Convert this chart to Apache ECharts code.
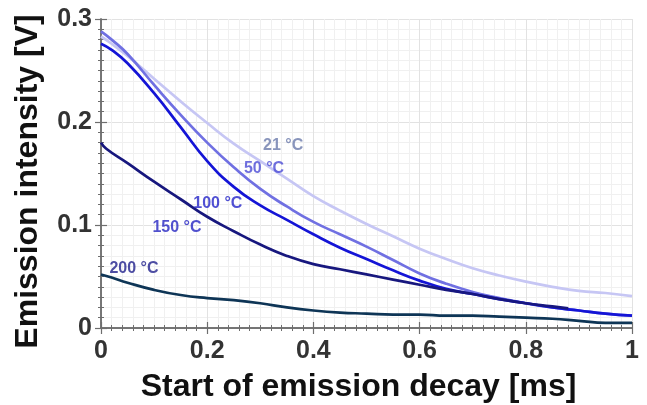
<!DOCTYPE html>
<html>
<head>
<meta charset="utf-8">
<script src="https://cdn.jsdelivr.net/npm/echarts@6/dist/echarts.min.js"></script>
<style>
html,body{margin:0;padding:0;background:#fff;}
#c{width:647px;height:405px;}
</style>
</head>
<body>
<div id="c"></div>
<script>
// ---- data ----
var xs = [0, 0.02, 0.05, 0.1, 0.15, 0.2, 0.25, 0.3, 0.35, 0.4, 0.45, 0.5, 0.55, 0.6, 0.65, 0.7, 0.75, 0.8, 0.85, 0.9, 0.95, 1.0];
var y21  = [0.283, 0.276, 0.264, 0.242, 0.220, 0.199, 0.179, 0.162, 0.145, 0.128, 0.114, 0.101, 0.089, 0.077, 0.067, 0.058, 0.051, 0.045, 0.040, 0.036, 0.034, 0.031];
var y50  = [0.288, 0.280, 0.266, 0.236, 0.207, 0.180, 0.156, 0.135, 0.118, 0.103, 0.091, 0.079, 0.066, 0.053, 0.043, 0.035, 0.029, 0.024, 0.020, 0.017, 0.014, 0.012];
var y100 = [0.276, 0.270, 0.257, 0.228, 0.195, 0.162, 0.137, 0.119, 0.105, 0.091, 0.078, 0.067, 0.056, 0.046, 0.038, 0.033, 0.028, 0.024, 0.020, 0.017, 0.014, 0.012];
var xs150 = [0, 0.01, 0.05, 0.1, 0.15, 0.2, 0.25, 0.3, 0.35, 0.4, 0.45, 0.5, 0.55, 0.6, 0.65, 0.7, 0.75, 0.8, 0.85, 0.88];
var y150 = [0.180, 0.174, 0.160, 0.142, 0.125, 0.108, 0.094, 0.081, 0.070, 0.062, 0.057, 0.052, 0.047, 0.042, 0.037, 0.033, 0.028, 0.024, 0.021, 0.019];
var y200 = [0.052, 0.049, 0.044, 0.037, 0.032, 0.029, 0.027, 0.024, 0.020, 0.017, 0.015, 0.014, 0.013, 0.013, 0.012, 0.012, 0.011, 0.010, 0.009, 0.007, 0.005, 0.005];

var seriesNames = ['21 °C', '50 °C', '100 °C', '150 °C', '200 °C'];
var lineColors  = ['#c6c6f4', '#7070e2', '#1414d6', '#17177e', '#0e3556'];
var labelColors = ['#6b7aab', '#4b4bd6', '#2424c8', '#2626c2', '#20208c'];
// label anchor positions in data coordinates
var labelX = [0.343, 0.307, 0.220, 0.143, 0.062];
var labelY = [0.177, 0.155, 0.121, 0.097, 0.058];

var xTicks = [0, 0.2, 0.4, 0.6, 0.8, 1];
var yTicks = [0, 0.1, 0.2, 0.3];

function pairs(xa, ya) { return xa.map(function (x, i) { return [x, ya[i]]; }); }
function fmt(v) { return String(+v.toFixed(2)); }

var font = 'Liberation Sans, Arial, sans-serif';
var axisCommon = {
  type: 'value',
  axisLine: { show: true, lineStyle: { color: '#6e6e6e', width: 1.5 } },
  axisTick: { show: true, inside: true, length: 6, lineStyle: { color: '#6e6e6e', width: 1.2 } },
  minorTick: { show: true, splitNumber: 10, length: 3, lineStyle: { color: '#6e6e6e', width: 1 } },
  splitLine: { show: true, lineStyle: { color: '#e2e2e2', width: 1 } },
  minorSplitLine: { show: true, lineStyle: { color: '#f0f0f0', width: 1 } }
};
function ax(extra) { return Object.assign({}, JSON.parse(JSON.stringify(axisCommon)), extra); }

var chart = echarts.init(document.getElementById('c'), null, { renderer: 'canvas' });

var series = [];
var dataSets = [pairs(xs, y21), pairs(xs, y50), pairs(xs, y100), pairs(xs150, y150), pairs(xs, y200)];
dataSets.forEach(function (d, i) {
  series.push({
    name: seriesNames[i], type: 'line', data: d, smooth: 0.5, showSymbol: false,
    lineStyle: { color: lineColors[i], width: 2.7 }, z: 3 + i
  });
});
series.push({
  type: 'scatter', symbolSize: 0, z: 10,
  data: seriesNames.map(function (n, i) {
    return { value: [labelX[i], labelY[i]], label: { show: true, position: 'inside', formatter: n, color: labelColors[i], fontSize: 16, fontWeight: 'bold', fontFamily: font } };
  })
});

chart.setOption({
  animation: false,
  backgroundColor: '#fff',
  grid: { left: 101, right: 15, top: 19, bottom: 77, containLabel: false, outerBoundsMode: 'none' },
  xAxis: [
    ax({
      min: 0, max: 1, interval: 0.2, position: 'bottom',
      name: 'Start of emission decay [ms]', nameLocation: 'middle', nameGap: 43,
      nameTextStyle: { fontSize: 32, fontWeight: 'bold', color: '#111', fontFamily: font, padding: [0, 16, 0, 0] },
      axisLabel: { show: true, margin: 11, fontSize: 25, fontWeight: 'bold', color: '#333', fontFamily: font,
        formatter: function (v) { return fmt(v); } }
    }),
    ax({ min: 0, max: 1, interval: 0.2, position: 'top', axisLabel: { show: false }, splitLine: { show: false }, minorSplitLine: { show: false } })
  ],
  yAxis: [
    ax({
      min: 0, max: 0.3, interval: 0.1, position: 'left',
      name: 'Emission intensity [V]', nameLocation: 'middle', nameGap: 57,
      nameTextStyle: { fontSize: 32, fontWeight: 'bold', color: '#111', fontFamily: font, padding: [0, 16, 0, 0] },
      axisLabel: { show: true, margin: 9, fontSize: 25, fontWeight: 'bold', color: '#333', fontFamily: font,
        formatter: function (v) { return fmt(v); } }
    }),
    ax({ min: 0, max: 0.3, interval: 0.1, position: 'right', axisLabel: { show: false }, splitLine: { show: false }, minorSplitLine: { show: false } })
  ],
  series: series
});
</script>
</body>
</html>
